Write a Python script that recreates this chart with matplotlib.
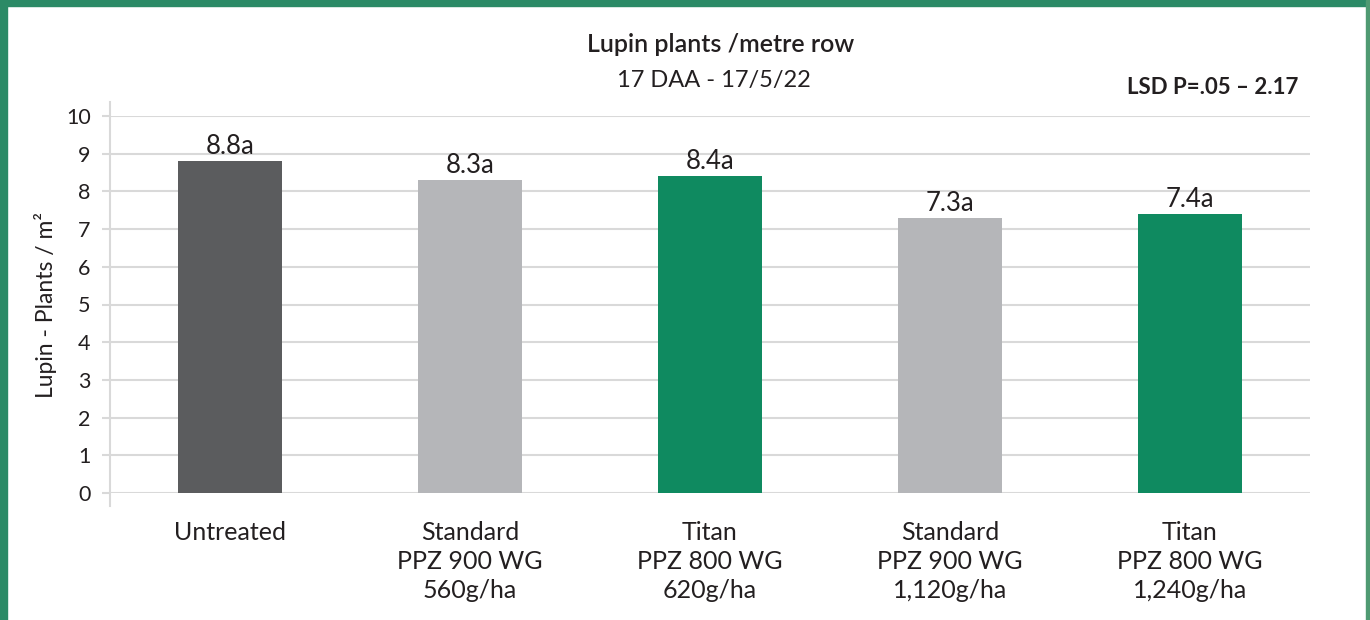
import numpy as np
import matplotlib.pyplot as plt
from matplotlib.patches import Rectangle

# Chart data
categories = ["Untreated",
              "Standard\nPPZ 900 WG\n560g/ha",
              "Titan\nPPZ 800 WG\n620g/ha",
              "Standard\nPPZ 900 WG\n1,120g/ha",
              "Titan\nPPZ 800 WG\n1,240g/ha"]
values = [8.8, 8.3, 8.4, 7.3, 7.4]
letters = ["a", "a", "a", "a", "a"]
yticks = list(range(0, 11))

bar_colors = ["#5b5c5e", "#b5b6b9", "#0f8a60", "#b5b6b9", "#0f8a60"]
grid_color = "#d9d9d9"
text_color = "#231f20"
border_color = "#2b8a66"

plt.rcParams['font.family'] = ['Lato', 'DejaVu Sans']

fig = plt.figure(figsize=(13.7, 6.2), dpi=100)
ax = fig.add_axes([110 / 1370, 1 - 493 / 620, 1200 / 1370, 377 / 620])

x = np.arange(len(categories))
ax.bar(x, values, width=0.43, color=bar_colors, zorder=3)

for xi, v, l in zip(x, values, letters):
    ax.text(xi, v + 0.06, f"{v:.1f}{l}", ha="center", va="bottom",
            fontsize=18.5, color=text_color)

ax.set_ylim(0, 10)
ax.set_xlim(-0.5, len(categories) - 0.5)
ax.set_yticks(yticks)
ax.set_xticks(x)
ax.set_xticklabels(categories, fontsize=18, color=text_color, linespacing=1.32)
ax.tick_params(axis="y", labelsize=15.5, colors=grid_color, labelcolor=text_color,
               length=6, width=1.5, pad=8)
ax.tick_params(axis="x", length=0, pad=20)
ax.grid(axis="y", color=grid_color, linewidth=1.5, zorder=0)
for s in ax.spines.values():
    s.set_visible(False)
# vertical axis line that runs a little past the plot area
ax.plot([0, 0], [-0.035, 1.037], transform=ax.transAxes, color=grid_color,
        linewidth=1.5, clip_on=False, zorder=1)

ax.set_ylabel("Lupin - Plants / m²", fontsize=16.5, color=text_color, labelpad=6)

fig.text(721 / 1370, 1 - 45 / 620, "Lupin plants /metre row", ha="center", va="center",
         fontsize=18, fontweight="semibold", color=text_color)
fig.text(714 / 1370, 1 - 80 / 620, "17 DAA - 17/5/22", ha="center", va="center",
         fontsize=17, color=text_color)
fig.text(1298 / 1370, 1 - 88 / 620, "LSD P=.05 – 2.17", ha="right", va="center",
         fontsize=16, fontweight="bold", color=text_color)

# green frame around the panel
fig.patches.append(Rectangle((0, 1 - 6 / 620), 1, 6 / 620, transform=fig.transFigure,
                             color=border_color, zorder=10))
fig.patches.append(Rectangle((0, 0), 7 / 1370, 1, transform=fig.transFigure,
                             color=border_color, zorder=10))
fig.patches.append(Rectangle((1 - 4 / 1370, 0), 4 / 1370, 1, transform=fig.transFigure,
                             color="#4f9a72", zorder=10))

fig.savefig("out.png", dpi=100)
